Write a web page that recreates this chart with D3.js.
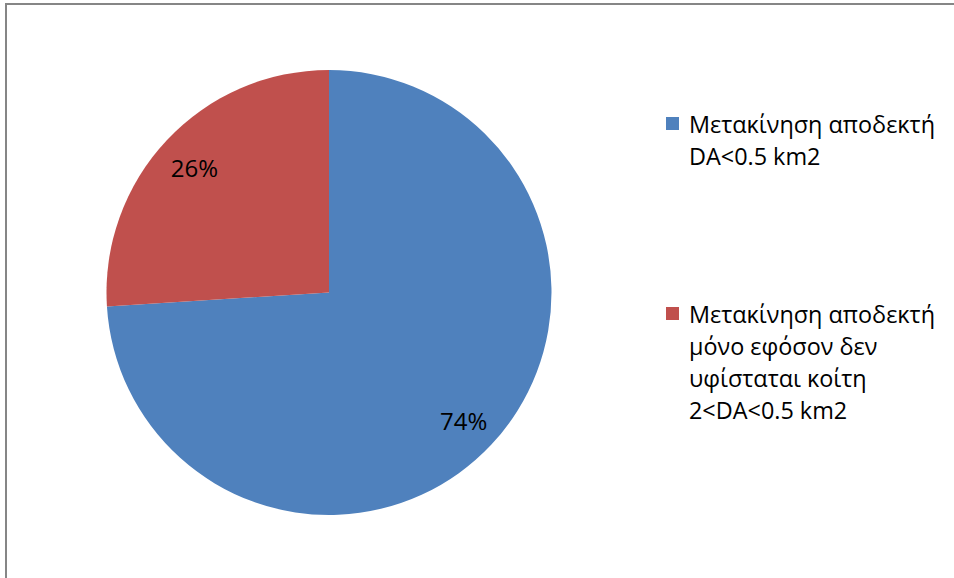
<!DOCTYPE html>
<html>
<head>
<meta charset="utf-8">
<script src="https://cdn.jsdelivr.net/npm/d3@7"></script>
<style>
  html, body { margin: 0; padding: 0; background: #fff; }
  svg { display: block; }
  text { font-family: "Open Sans", "Noto Sans", sans-serif; fill: #000; }
</style>
</head>
<body>
<svg id="chart" width="954" height="578"></svg>
<script>
// Share of catchments by acceptable relocation condition
const categories = [
  "Μετακίνηση αποδεκτή DA<0.5 km2",
  "Μετακίνηση αποδεκτή μόνο εφόσον δεν υφίσταται κοίτη 2<DA<0.5 km2"
];
const values = [74, 26];
const valueLabels = ["74%", "26%"];
const legendLines = [
  ["Μετακίνηση αποδεκτή", "DA<0.5 km2"],
  ["Μετακίνηση αποδεκτή", "μόνο εφόσον δεν", "υφίσταται κοίτη", "2<DA<0.5 km2"]
];
const colors = ["#4F81BD", "#C0504D"];

const svg = d3.select("#chart");

// outer chart frame (right/bottom edges fall outside the view)
svg.append("rect")
  .attr("x", 6).attr("y", 4)
  .attr("width", 960).attr("height", 600)
  .attr("fill", "none")
  .attr("stroke", "#868686")
  .attr("stroke-width", 2);

const cx = 329, cy = 292.5, r = 222.5;

const color = d3.scaleOrdinal().domain(categories).range(colors);

const pie = d3.pie().sort(null).value(d => d.value);
const arcs = pie(categories.map((c, i) => ({ cat: c, value: values[i], label: valueLabels[i] })));

const arc = d3.arc().innerRadius(0).outerRadius(r);
const labelArc = d3.arc().innerRadius(r * 0.83).outerRadius(r * 0.83);

const g = svg.append("g").attr("transform", `translate(${cx},${cy})`);

g.selectAll("path.slice")
  .data(arcs)
  .join("path")
  .attr("class", "slice")
  .attr("d", arc)
  .attr("fill", d => color(d.data.cat));

g.selectAll("text.pct")
  .data(arcs)
  .join("text")
  .attr("class", "pct")
  .attr("transform", d => `translate(${labelArc.centroid(d)})`)
  .attr("text-anchor", "middle")
  .attr("dy", "0.45em")
  .style("font-size", "24px")
  .text(d => d.data.label);

// legend
const legendTop = [133, 323];
const legend = svg.append("g");
categories.forEach((c, i) => {
  const item = legend.append("g");
  item.append("rect")
    .attr("x", 666).attr("y", legendTop[i] - 16)
    .attr("width", 13).attr("height", 13)
    .attr("fill", color(c));
  item.append("text")
    .attr("x", 689)
    .attr("y", legendTop[i])
    .style("font-size", "23.4px")
    .selectAll("tspan")
    .data(legendLines[i])
    .join("tspan")
    .attr("x", 689)
    .attr("dy", (d, j) => j === 0 ? 0 : 32)
    .text(d => d);
});
</script>
</body>
</html>
